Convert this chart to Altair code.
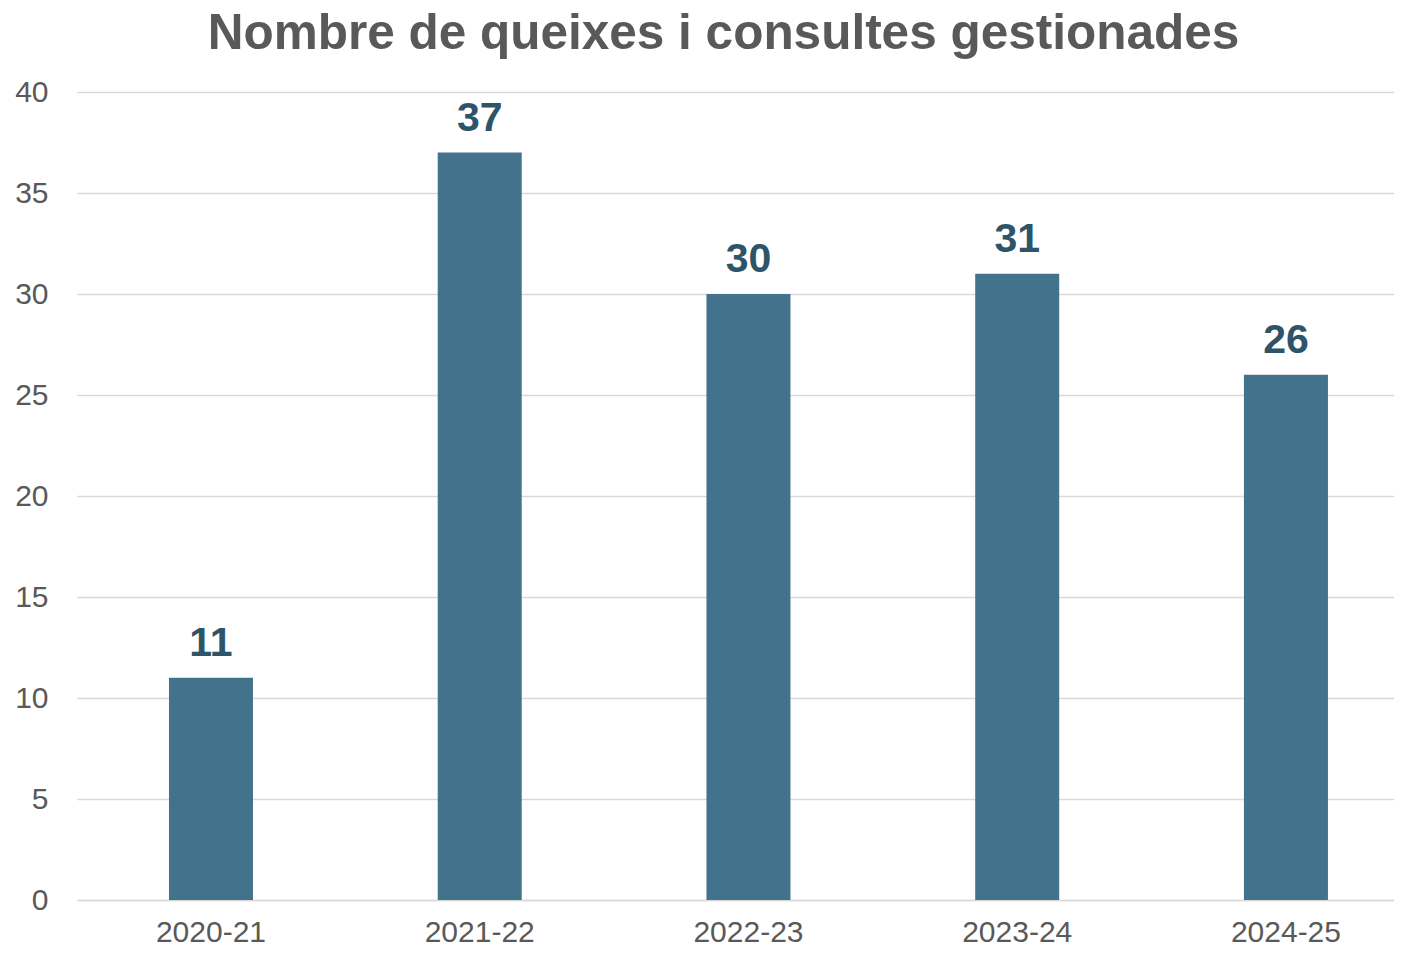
import altair as alt
import pandas as pd

years = ["2020-21", "2021-22", "2022-23", "2023-24", "2024-25"]
values = [11, 37, 30, 31, 26]
y_ticks = [0, 5, 10, 15, 20, 25, 30, 35, 40]
title_text = "Nombre de queixes i consultes gestionades"

df = pd.DataFrame({"year": years, "value": values})

FONT = "Liberation Sans"
GRAY = "#595959"
GRID = "#D9D9D9"
BAR = "#43738C"
LABEL = "#2E5469"

x_enc = alt.X(
    "year:N",
    sort=years,
    title=None,
    scale=alt.Scale(paddingInner=0.6874, paddingOuter=0.294, align=0.582),
    axis=alt.Axis(
        labelAngle=0,
        labelFontSize=30,
        labelColor=GRAY,
        labelFont=FONT,
        labelPadding=17,
        ticks=False,
        domainColor=GRID,
        domainWidth=1.5,
        grid=False,
    ),
)
y_enc = alt.Y(
    "value:Q",
    title=None,
    scale=alt.Scale(domain=[0, 40], nice=False),
    axis=alt.Axis(
        values=y_ticks,
        labelFontSize=30,
        labelColor=GRAY,
        labelFont=FONT,
        labelPadding=29,
        ticks=False,
        domain=False,
        gridColor=GRID,
        gridWidth=1.5,
    ),
)

bars = alt.Chart(df).mark_bar(color=BAR).encode(x=x_enc, y=y_enc)
labels = alt.Chart(df).mark_text(
    font=FONT, fontSize=41, fontWeight="bold", color=LABEL,
    baseline="alphabetic", dy=-22,
).encode(x=alt.X("year:N", sort=years), y=alt.Y("value:Q"), text="value:Q")

chart = (
    alt.layer(bars, labels)
    .properties(
        width=1317,
        height=808,
        padding={"left": 69, "top": 84, "right": 0, "bottom": 46},
        autosize=alt.AutoSizeParams(type="none"),
        title=alt.TitleParams(
            text=title_text,
            font=FONT,
            fontSize=49.5,
            fontWeight="bold",
            color=GRAY,
            anchor="middle",
            frame="group",
            dx=-12,
            offset=18,
        ),
    )
    .configure_view(stroke=None)
)

chart.save("out.html", embed_options={"renderer": "svg", "actions": False})
